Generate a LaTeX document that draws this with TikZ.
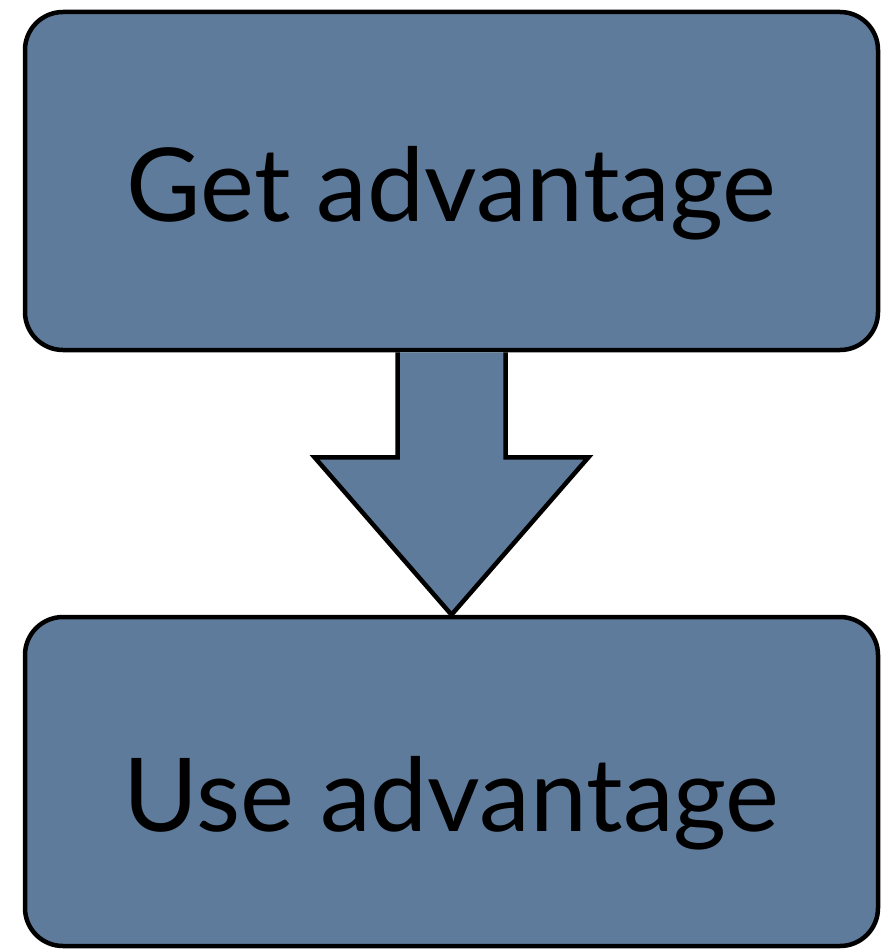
\documentclass[tikz,border=0pt]{standalone}
\usepackage{fontspec}
\setmainfont{Lato}
\usetikzlibrary{calc}
\definecolor{slate}{HTML}{5F7B9B}
\begin{document}
\begin{tikzpicture}[x=1pt,y=-1pt,
  box/.style={draw=black,line width=4.5pt,fill=slate,rounded corners=38pt,
    minimum width=853pt,inner sep=0pt,font=\fontsize{102}{110}\selectfont},
  blockarrow/.style={draw=black,line width=4.5pt,fill=slate,line join=miter}]
\useasboundingbox (0,0) rectangle (881,950);
\node[box,minimum height=338pt] (get) at (451.5,181) {\raisebox{-12pt}[\height][\depth]{Get advantage}};
\node[box,minimum height=329pt] (use) at (451.5,781.5) {\raisebox{-22pt}[\height][\depth]{Use advantage}};
\draw[blockarrow] ($(get.south)+(-54,0)$) -- ($(get.south)+(-54,105)$)
  -- ($(get.south)+(-137,105)$) -- (use.north) -- ($(get.south)+(137,105)$)
  -- ($(get.south)+(54,105)$) -- ($(get.south)+(54,0)$);
\end{tikzpicture}
\end{document}
